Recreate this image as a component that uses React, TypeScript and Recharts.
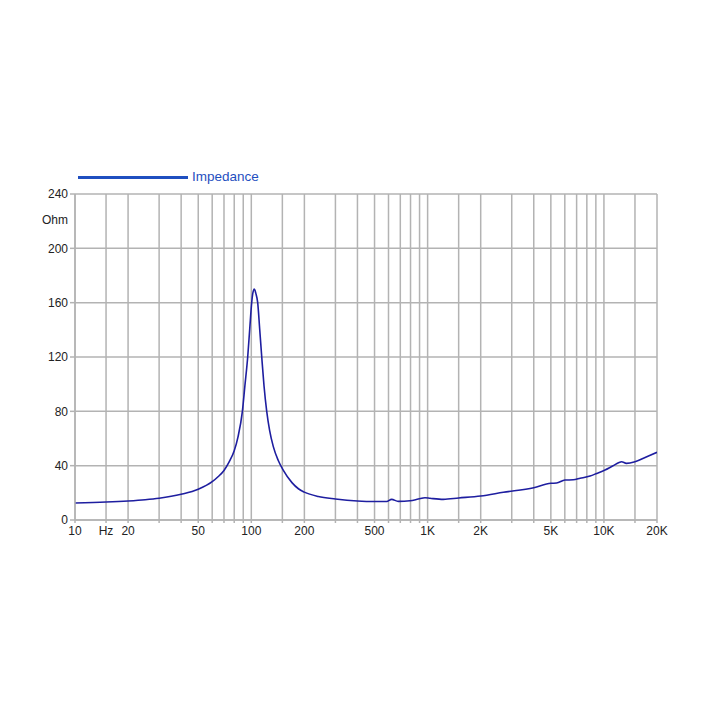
import { LineChart, Line, XAxis, YAxis, CartesianGrid } from "recharts";

const freqs = [
  10, 15, 20, 25, 30, 40, 50, 60, 65, 70, 75, 80, 84, 89, 92, 95.4, 98, 100.5, 102, 104, 106,
  108.7, 111.5, 114.6, 118, 122.3, 127, 133.3, 142, 152, 170, 185, 200, 240, 300, 400, 500, 586,
  625, 682, 795, 885, 966, 1032, 1228, 1500, 2000, 2690, 4000, 5000, 5390, 6010, 6700, 7330, 8340,
  9100, 10140, 11200, 12600, 13400, 15000, 17500, 20000,
];
const impedance = [
  12.5, 13.2, 14, 14.9, 16, 18.9, 22.6, 28.2, 32, 36.5, 43, 51, 61, 80, 99, 120, 141, 160, 167,
  170, 167, 160, 141, 120, 99, 80, 66, 54, 44, 36.5, 27.5, 23, 20.5, 17.3, 15.5, 14, 13.6, 13.6,
  15.2, 13.7, 14.2, 15.4, 16.4, 16, 15.2, 16.2, 17.7, 20.4, 23.8, 27, 27.2, 29.4, 29.6, 30.7, 32.4,
  34.3, 36.8, 39.7, 42.9, 41.7, 42.9, 46.6, 49.8,
];

const xTicks = [
  10, 15, 20, 30, 40, 50, 60, 70, 80, 90, 100, 150, 200, 300, 400, 500, 600, 700, 800, 900, 1000,
  1500, 2000, 3000, 4000, 5000, 6000, 7000, 8000, 9000, 10000, 15000, 20000,
];
const xLabels: Record<number, string> = {
  10: "10", 15: "Hz", 20: "20", 50: "50", 100: "100", 200: "200", 500: "500",
  1000: "1K", 2000: "2K", 5000: "5K", 10000: "10K", 20000: "20K",
};
const yTicks = [0, 40, 80, 120, 160, 200, 240];

const data = freqs.map((f, i) => ({ f, ohm: impedance[i] }));

const font = "'Liberation Sans', Arial, Helvetica, sans-serif";
const tickStyle = { fill: "#222", fontSize: 12, fontFamily: font };
const gridGray = "#b3b3b3";

export default function App() {
  return (
    <div style={{ position: "absolute", left: 0, top: 0, width: 711, height: 711, background: "#fff" }}>
      {/* legend */}
      <div
        style={{
          position: "absolute",
          left: 78,
          top: 168,
          display: "flex",
          alignItems: "center",
          fontFamily: font,
          zIndex: 1,
        }}
      >
        <div style={{ width: 110, height: 3, background: "#1f4fc0", marginRight: 4 }} />
        <span style={{ color: "#1f4fc0", fontSize: 13.5, lineHeight: "18px" }}>Impedance</span>
      </div>
      <LineChart
        width={711}
        height={711}
        data={data}
        margin={{ top: 194, right: 54, bottom: 0, left: 0 }}
      >
        <CartesianGrid stroke={gridGray} strokeWidth={1.5} />
        <XAxis
          dataKey="f"
          type="number"
          scale="log"
          domain={[10, 20000]}
          ticks={xTicks}
          interval={0}
          height={191}
          tickFormatter={(v: number) => xLabels[v] ?? ""}
          tick={tickStyle}
          tickSize={3}
          tickMargin={3}
          axisLine={{ stroke: gridGray, strokeWidth: 1.5 }}
          tickLine={{ stroke: gridGray, strokeWidth: 1.5 }}
          allowDataOverflow
        />
        <YAxis
          type="number"
          domain={[0, 240]}
          ticks={yTicks}
          width={75}
          tick={tickStyle}
          tickSize={5}
          tickMargin={2}
          axisLine={{ stroke: gridGray, strokeWidth: 1.5 }}
          tickLine={{ stroke: gridGray, strokeWidth: 1.5 }}
          label={{
            content: ({ viewBox }: any) => (
              <text
                x={viewBox.x + viewBox.width - 7}
                y={viewBox.y + 30}
                textAnchor="end"
                fontSize={12}
                fontFamily={font}
                fill="#222"
              >
                Ohm
              </text>
            ),
          }}
        />
        <Line
          type="monotone"
          dataKey="ohm"
          stroke="#1e1ea0"
          strokeWidth={1.6}
          dot={false}
          isAnimationActive={false}
        />
      </LineChart>
    </div>
  );
}
